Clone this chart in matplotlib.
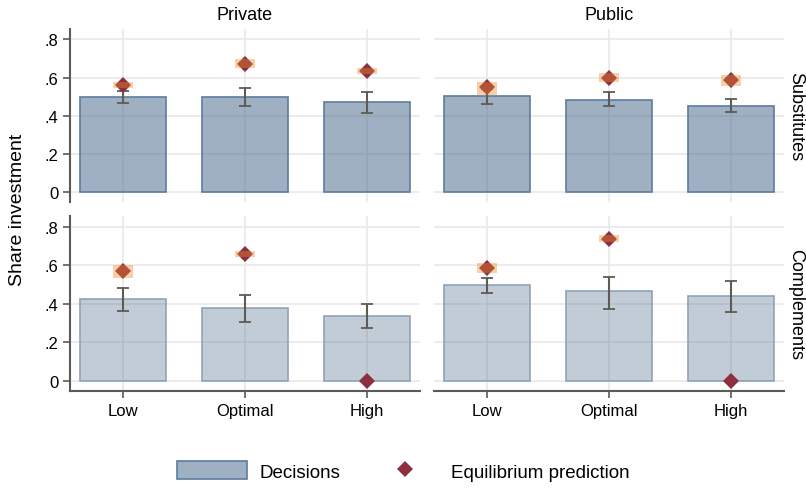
import matplotlib.pyplot as plt
import numpy as np

plt.rcParams['font.family'] = ['Liberation Sans', 'DejaVu Sans']

categories = ['Low', 'Optimal', 'High']
columns = ['Private', 'Public']
rows = ['Substitutes', 'Complements']

# decisions (bar heights) and 95% CI, [row][col]
decisions = {
    ('Substitutes', 'Private'): [0.497, 0.497, 0.470],
    ('Substitutes', 'Public'): [0.502, 0.481, 0.452],
    ('Complements', 'Private'): [0.426, 0.380, 0.336],
    ('Complements', 'Public'): [0.495, 0.464, 0.438],
}
ci_low = {
    ('Substitutes', 'Private'): [0.465, 0.450, 0.413],
    ('Substitutes', 'Public'): [0.460, 0.450, 0.418],
    ('Complements', 'Private'): [0.363, 0.308, 0.275],
    ('Complements', 'Public'): [0.457, 0.375, 0.358],
}
ci_high = {
    ('Substitutes', 'Private'): [0.528, 0.544, 0.523],
    ('Substitutes', 'Public'): [0.539, 0.523, 0.490],
    ('Complements', 'Private'): [0.483, 0.445, 0.400],
    ('Complements', 'Public'): [0.536, 0.541, 0.520],
}
# equilibrium prediction and its range
equilibrium = {
    ('Substitutes', 'Private'): [0.560, 0.670, 0.633],
    ('Substitutes', 'Public'): [0.549, 0.598, 0.590],
    ('Complements', 'Private'): [0.570, 0.660, 0.0],
    ('Complements', 'Public'): [0.583, 0.737, 0.0],
}
eq_low = {
    ('Substitutes', 'Private'): [0.544, 0.648, 0.617],
    ('Substitutes', 'Public'): [0.507, 0.575, 0.555],
    ('Complements', 'Private'): [0.535, 0.643, np.nan],
    ('Complements', 'Public'): [0.560, 0.720, np.nan],
}
eq_high = {
    ('Substitutes', 'Private'): [0.575, 0.695, 0.648],
    ('Substitutes', 'Public'): [0.575, 0.622, 0.612],
    ('Complements', 'Private'): [0.602, 0.675, np.nan],
    ('Complements', 'Public'): [0.612, 0.754, np.nan],
}

fig = plt.figure(figsize=(8.06, 4.89), dpi=100)
boxes = {
    (0, 0): [0.0868, 0.5849, 0.4342, 0.3538],
    (0, 1): [0.5385, 0.5849, 0.4342, 0.3538],
    (1, 0): [0.0868, 0.1984, 0.4342, 0.3579],
    (1, 1): [0.5385, 0.1984, 0.4342, 0.3579],
}
x = np.arange(1, 4)
axis_col = '#5a5a5a'

for (r, c), box in boxes.items():
    ax = fig.add_axes(box)
    key = (rows[r], columns[c])
    alpha = 0.55 if r == 0 else 0.35
    edge = '#5d7d9c' if r == 0 else '#8ea3b8'
    ax.bar(x, decisions[key], width=0.7, color='#4f6f8f', alpha=alpha,
           edgecolor='none', zorder=2)
    ax.bar(x, decisions[key], width=0.7, facecolor='none',
           edgecolor=edge, linewidth=1.2, zorder=2)
    d = np.array(decisions[key])
    ax.errorbar(x, d, yerr=[d - np.array(ci_low[key]), np.array(ci_high[key]) - d],
                fmt='none', ecolor='#5e5b52', elinewidth=1.5, capsize=4,
                capthick=1.3, zorder=3)
    ax.plot(x, equilibrium[key], 'D', color='#8c3040', markersize=8,
            markeredgewidth=0, zorder=4)
    lo = np.array(eq_low[key])
    hi = np.array(eq_high[key])
    ax.bar(x, hi - lo, bottom=lo, width=0.165, color='#ec8a2c', alpha=0.4,
           edgecolor='none', zorder=5)

    ax.set_xlim(0.566, 3.434)
    ax.set_ylim(-0.052, 0.855)
    ax.set_yticks([0, 0.2, 0.4, 0.6, 0.8])
    ax.set_xticks(x)
    ax.grid(True, color='#e9e9e9', linewidth=1.2, zorder=0)
    ax.set_axisbelow(True)
    for s in ['top', 'right']:
        ax.spines[s].set_visible(False)
    ax.spines['left'].set_color(axis_col)
    ax.spines['bottom'].set_color(axis_col)
    ax.spines['left'].set_linewidth(1.5)
    ax.spines['bottom'].set_linewidth(1.5)
    ax.tick_params(colors=axis_col, labelcolor='black', labelsize=12,
                   length=5, width=1.2)

    if c == 0:
        ax.set_yticklabels(['0', '.2', '.4', '.6', '.8'])
    else:
        ax.spines['left'].set_visible(False)
        ax.tick_params(axis='y', left=False, labelleft=False)
        ax.text(1.01, 0.5, rows[r], transform=ax.transAxes, rotation=270,
                ha='left', va='center', fontsize=13)
    if r == 1:
        ax.set_xticklabels(categories)
    else:
        ax.spines['bottom'].set_visible(False)
        ax.tick_params(axis='x', bottom=False, labelbottom=False)
        ax.set_title(columns[c], fontsize=13, pad=7)

fig.text(0.022, 0.57, 'Share investment', rotation=90, ha='center',
         va='center', fontsize=14)

handles = [
    plt.Rectangle((0, 0), 1, 1, facecolor='#9eb0c1', edgecolor='#5d7d9c',
                  linewidth=1.2),
    plt.Line2D([], [], marker='D', color='#8c3040', linestyle='none',
               markersize=8, markeredgewidth=0),
]
fig.legend(handles, ['Decisions', 'Equilibrium prediction'], loc='center',
           bbox_to_anchor=(0.501, 0.035), ncol=2, frameon=False, fontsize=13.5,
           handlelength=3.7, handleheight=1.1, columnspacing=1.6,
           handletextpad=0.65)

fig.savefig('out.png', dpi=100)
